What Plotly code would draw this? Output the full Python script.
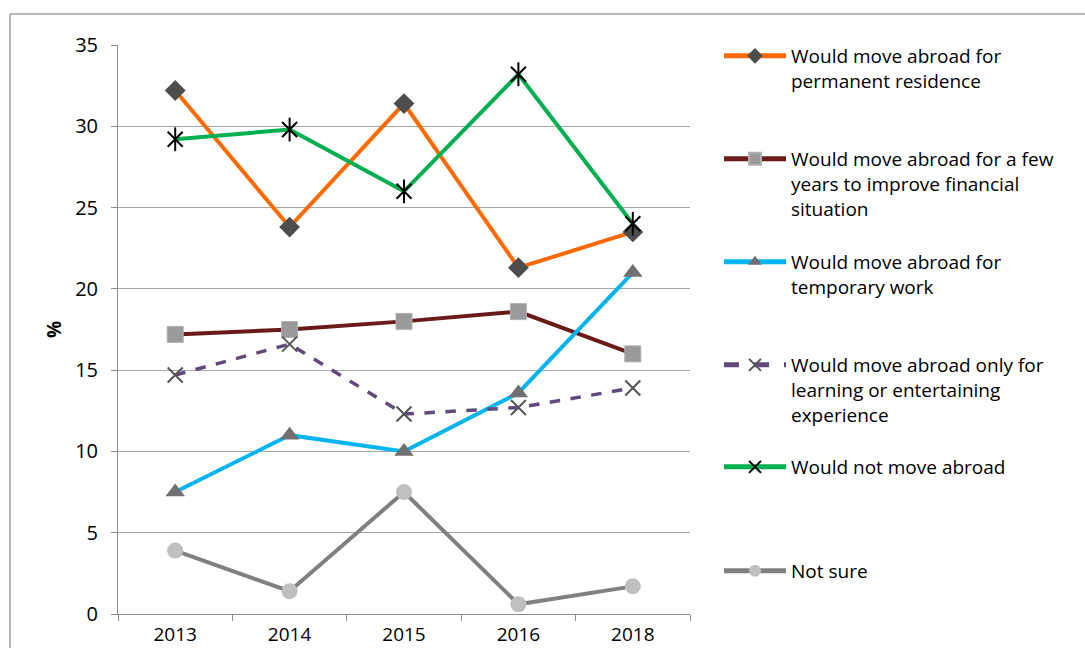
import plotly.graph_objects as go

years = ["2013", "2014", "2015", "2016", "2018"]
permanent = [32.2, 23.8, 31.4, 21.3, 23.5]
few_years = [17.2, 17.5, 18.0, 18.6, 16.0]
temporary = [7.5, 11.0, 10.0, 13.6, 21.0]
learning = [14.7, 16.6, 12.3, 12.7, 13.9]
not_move = [29.2, 29.8, 26.0, 33.2, 24.0]
not_sure = [3.9, 1.4, 7.5, 0.6, 1.7]

names = [
    "Would move abroad for<br>permanent residence",
    "Would move abroad for a few<br>years to improve financial<br>situation",
    "Would move abroad for<br>temporary work",
    "Would move abroad only for<br>learning or entertaining<br>experience",
    "Would not move abroad",
    "Not sure",
]

FONT = "'Open Sans', Lato, sans-serif"

L, R, T, B = 118, 690, 45, 614
W, H = 1085, 648


def px_x(p):
    return (p - L) / (R - L)


def px_y(p):
    return (B - p) / (B - T)


fig = go.Figure()

series = [
    (permanent, dict(color="#FF6A00", width=4), dict(symbol="diamond", size=16, color="#4D4D4D")),
    (few_years, dict(color="#6B1A1A", width=4), dict(symbol="square", size=16, color="#9A9A9A",
                                                     line=dict(color="#B0B0B0", width=1))),
    (temporary, dict(color="#00B4F0", width=4), dict(symbol="triangle-up", size=17, color="#707070")),
    (learning, dict(color="#604A7B", width=3.5, dash="dash"),
     dict(symbol="x-thin-open", size=15, color="#555555", line=dict(color="#555555", width=2))),
    (not_move, dict(color="#00B050", width=4),
     dict(symbol="x-thin-open", size=15, color="#000000", line=dict(color="#000000", width=2))),
    (not_sure, dict(color="#808080", width=4), dict(symbol="circle", size=16, color="#BFBFBF")),
]

legend_tops = [37, 140, 243, 346, 448, 552]

for i, (vals, line, marker) in enumerate(series):
    lg = "legend" if i == 0 else f"legend{i+1}"
    fig.add_trace(go.Scatter(
        x=years, y=vals, name=names[i], mode="lines+markers",
        line=line, marker=marker, legend=lg,
    ))
    if i == 4:
        # vertical stroke to complete the asterisk markers
        fig.add_trace(go.Scatter(
            x=years, y=vals, mode="markers", showlegend=False, hoverinfo="skip",
            marker=dict(symbol="line-ns-open", size=17, color="#000000",
                        line=dict(color="#000000", width=2)),
        ))

layout_legends = {}
for i, top in enumerate(legend_tops):
    key = "legend" if i == 0 else f"legend{i+1}"
    layout_legends[key] = dict(
        x=px_x(719), xanchor="left", y=px_y(top), yanchor="top",
        font=dict(family=FONT, size=19, color="#000000"),
        bgcolor="rgba(0,0,0,0)", valign="top", itemwidth=62, itemsizing="constant",
    )

fig.update_layout(
    width=W, height=H,
    margin=dict(l=L, r=W - R, t=T, b=H - B),
    paper_bgcolor="white", plot_bgcolor="white",
    font=dict(family=FONT, size=19, color="#000000"),
    showlegend=True,
    **layout_legends,
    xaxis=dict(
        type="category", showgrid=False, showline=True, linecolor="#8C8C8C", linewidth=1,
        ticks="outside", tickson="boundaries", ticklen=6, tickcolor="#8C8C8C",
        tickfont=dict(family=FONT, size=19), range=[-0.5, 4.5], ticklabelstandoff=3,
        automargin=False,
    ),
    yaxis=dict(
        range=[0, 35], dtick=5, showgrid=True, gridcolor="#A6A6A6", gridwidth=1,
        showline=True, linecolor="#8C8C8C", linewidth=1, ticks="outside", ticklen=6,
        tickcolor="#8C8C8C", tickfont=dict(family=FONT, size=20), zeroline=False,
        ticklabelstandoff=9, automargin=False,
        title=dict(text="<b>%</b>", font=dict(family=FONT, size=19), standoff=8),
    ),
    shapes=[
        dict(type="line", xref="paper", yref="paper", x0=px_x(10), x1=px_x(1090),
             y0=px_y(14), y1=px_y(14), line=dict(color="#A0A0A0", width=1.5)),
        dict(type="line", xref="paper", yref="paper", x0=px_x(10), x1=px_x(10),
             y0=px_y(14), y1=px_y(660), line=dict(color="#A0A0A0", width=1.5)),
    ],
)

fig.write_html("out.html", config={"displayModeBar": False},
               post_script="document.body.style.margin='0px';")
